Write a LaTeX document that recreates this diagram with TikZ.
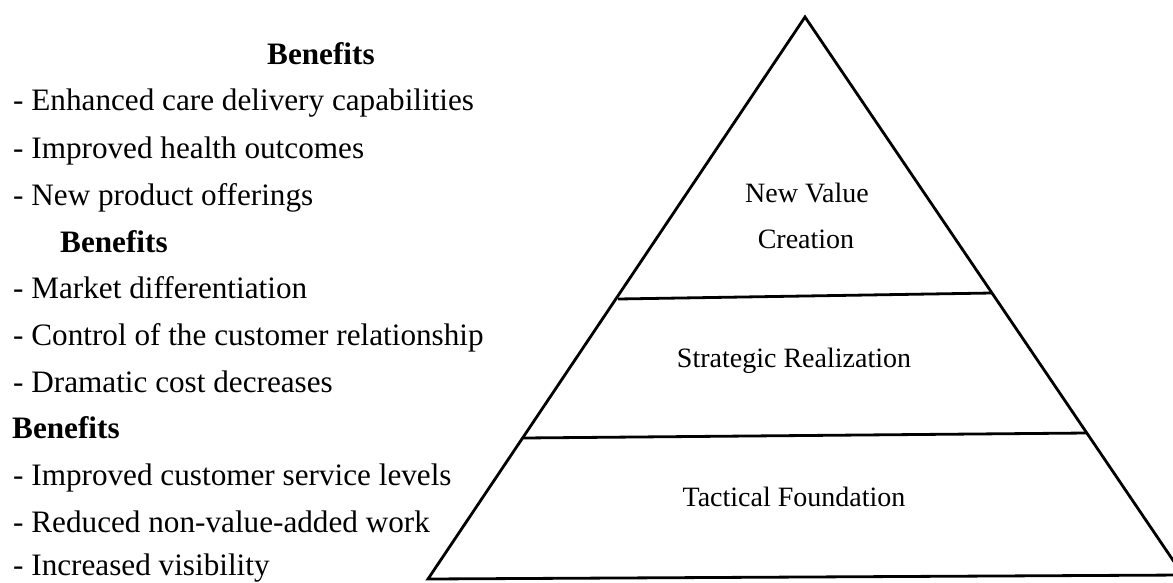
\documentclass[tikz,border=0pt]{standalone}
\usepackage{fontspec}
\setmainfont{Liberation Serif}
\begin{document}
\begin{tikzpicture}[x=1pt,y=-1pt,
  listtext/.style={anchor=base west,inner sep=0pt,font=\fontsize{31.2}{37}\selectfont},
  headtext/.style={listtext,font=\fontsize{31.2}{37}\selectfont\bfseries},
  tiertext/.style={anchor=base,inner sep=0pt,font=\fontsize{28}{34}\selectfont},
  edge/.style={line width=2.8pt,line join=miter,line cap=butt}]
\useasboundingbox (0,0) rectangle (1173,582);
\clip (0,0) rectangle (1173,582);

% pyramid outline and tier boundaries
\coordinate (apex) at (805,17);
\coordinate (bl) at (428,579);
\coordinate (br) at (1183,575);
\coordinate (ul) at (618,299);
\coordinate (ur) at (992,293);
\coordinate (ml) at (523,438);
\coordinate (mr) at (1087,433);
\draw[edge] (bl) -- (apex) -- (br) -- cycle;
\draw[edge] (ul) -- (ur);
\draw[edge] (ml) -- (mr);

% tier labels
\node[tiertext] (nv1) at (807,202) {New Value};
\node[tiertext] (nv2) at (806,248) {Creation};
\node[tiertext] (sr) at (794,367) {Strategic Realization};
\node[tiertext] (tf) at (794,506) {Tactical Foundation};

% benefit lists
\node[headtext] (h1) at (267,64) {Benefits};
\node[listtext] (a1) at (13,110) {- Enhanced care delivery capabilities};
\node[listtext] (a2) at (13,158) {- Improved health outcomes};
\node[listtext] (a3) at (13,205) {- New product offerings};
\node[headtext] (h2) at (60,252) {Benefits};
\node[listtext] (b1) at (13,298) {- Market differentiation};
\node[listtext] (b2) at (13,345) {- Control of the customer relationship};
\node[listtext] (b3) at (13,392) {- Dramatic cost decreases};
\node[headtext] (h3) at (12,438) {Benefits};
\node[listtext] (c1) at (13,485) {- Improved customer service levels};
\node[listtext] (c2) at (13,532) {- Reduced non-value-added work};
\node[listtext] (c3) at (13,575) {- Increased visibility};
\end{tikzpicture}
\end{document}
